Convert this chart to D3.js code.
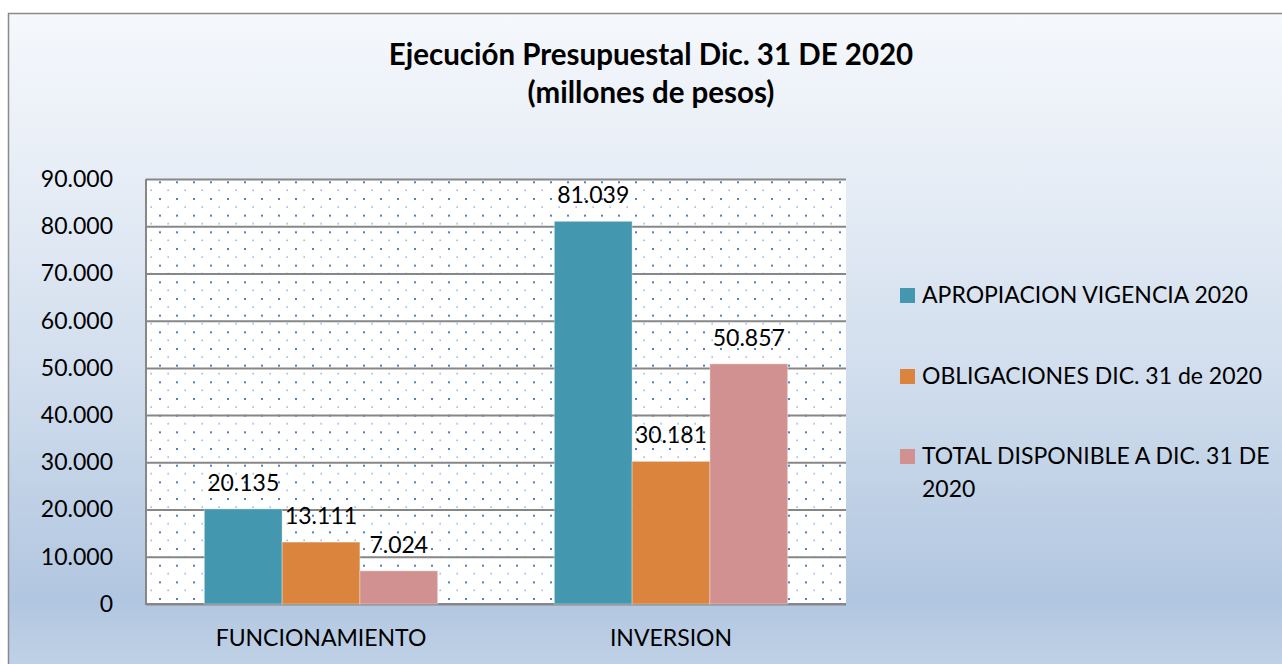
<!DOCTYPE html>
<html>
<head>
<meta charset="utf-8">
<script src="https://cdn.jsdelivr.net/npm/d3@7"></script>
<style>
  body { margin: 0; background: #fff; }
  svg { display: block; font-family: Lato, "Open Sans", sans-serif; }
</style>
</head>
<body>
<script>
// Datos del gráfico
const categorias = ["FUNCIONAMIENTO", "INVERSION"];
const series = ["APROPIACION VIGENCIA 2020", "OBLIGACIONES DIC. 31 de 2020", "TOTAL DISPONIBLE A DIC. 31 DE 2020"];
const apropiacion = [20135, 81039];
const obligaciones = [13111, 30181];
const disponible = [7024, 50857];
const ticksY = [0, 10000, 20000, 30000, 40000, 50000, 60000, 70000, 80000, 90000];

const WIDTH = 1282;
const HEIGHT = 664;
const PLOT = { left: 146, right: 846, top: 179, bottom: 604 };
const COLORES = ["#4398b0", "#da843e", "#d29191"];

const locale = d3.formatLocale({ decimal: ",", thousands: ".", grouping: [3], currency: ["$", ""] });
const fmt = locale.format(",d");

const svg = d3.select("body").append("svg")
  .attr("width", WIDTH)
  .attr("height", HEIGHT);

const defs = svg.append("defs");

// Fondo degradado del gráfico
const grad = defs.append("linearGradient")
  .attr("id", "fondo")
  .attr("x1", 0).attr("y1", 0).attr("x2", 0).attr("y2", 1);
[[0, "#f5f8fc"], [0.2, "#e9eff7"], [0.5, "#d3dfee"], [0.85, "#b1c6e0"], [1, "#c8d8ea"]]
  .forEach(([o, c]) => grad.append("stop").attr("offset", o).attr("stop-color", c));

// Patrón de puntos del área de trazado
const pat = defs.append("pattern")
  .attr("id", "puntos")
  .attr("patternUnits", "userSpaceOnUse")
  .attr("x", 159).attr("y", 181.3)
  .attr("width", 17).attr("height", 16.67);
pat.append("rect").attr("width", 17).attr("height", 16.67).attr("fill", "#fff");
pat.append("rect").attr("x", 0).attr("y", 0).attr("width", 2).attr("height", 2).attr("fill", "#4f7fc6");
pat.append("rect").attr("x", 8.5).attr("y", 8.4).attr("width", 1.3).attr("height", 1.3).attr("fill", "#6b93cf");

svg.append("rect")
  .attr("x", 8.5).attr("y", 13.5)
  .attr("width", 1300).attr("height", 690)
  .attr("fill", "url(#fondo)")
  .attr("stroke", "#8a8a8a")
  .attr("stroke-width", 1.5);

// Título
const titulo = svg.append("text")
  .attr("x", 651)
  .attr("text-anchor", "middle")
  .attr("font-weight", "bold")
  .attr("font-size", 29.5)
  .attr("fill", "#000");
titulo.append("tspan").attr("x", 651).attr("y", 65).text("Ejecución Presupuestal Dic. 31 DE 2020");
titulo.append("tspan").attr("x", 651).attr("y", 103).text("(millones de pesos)");

// Escalas
const escalaY = d3.scaleLinear().domain([0, 90000]).range([PLOT.bottom, PLOT.top]);
const escalaX = d3.scaleBand().domain(categorias).range([PLOT.left, PLOT.right]).padding(0);
const escalaSerie = d3.scaleBand().domain(series).range([0, escalaX.bandwidth()])
  .paddingInner(0).paddingOuter(0.75);

// Área de trazado
svg.append("rect")
  .attr("x", PLOT.left).attr("y", PLOT.top)
  .attr("width", PLOT.right - PLOT.left).attr("height", PLOT.bottom - PLOT.top)
  .attr("fill", "url(#puntos)");

// Eje Y con líneas de cuadrícula
const ejeY = svg.append("g")
  .attr("transform", `translate(${PLOT.left},0)`)
  .call(d3.axisLeft(escalaY).tickValues(ticksY).tickFormat(fmt).tickSize(0).tickPadding(33));
ejeY.select(".domain").remove();
ejeY.selectAll("line")
  .attr("x2", PLOT.right - PLOT.left)
  .attr("stroke", "#878787")
  .attr("stroke-width", 2);
ejeY.selectAll("text")
  .attr("font-size", 23)
  .attr("font-family", "Lato, sans-serif")
  .attr("fill", "#000");

// Borde izquierdo e inferior
svg.append("path")
  .attr("d", `M${PLOT.left},${PLOT.top}V${PLOT.bottom}H${PLOT.right}`)
  .attr("fill", "none")
  .attr("stroke", "#878787")
  .attr("stroke-width", 2);

// Barras
const datos = categorias.flatMap((c, i) => [
  { cat: c, serie: series[0], valor: apropiacion[i], color: COLORES[0] },
  { cat: c, serie: series[1], valor: obligaciones[i], color: COLORES[1] },
  { cat: c, serie: series[2], valor: disponible[i], color: COLORES[2] },
]);

svg.append("g").selectAll("rect")
  .data(datos)
  .join("rect")
  .attr("x", (d) => escalaX(d.cat) + escalaSerie(d.serie))
  .attr("y", (d) => escalaY(d.valor))
  .attr("width", escalaSerie.bandwidth())
  .attr("height", (d) => escalaY(0) - escalaY(d.valor))
  .attr("fill", (d) => d.color)
  .attr("stroke", "rgba(255,255,255,0.35)")
  .attr("stroke-width", 1);

// Etiquetas de datos
svg.append("g").selectAll("text")
  .data(datos)
  .join("text")
  .attr("x", (d) => escalaX(d.cat) + escalaSerie(d.serie) + escalaSerie.bandwidth() / 2)
  .attr("y", (d) => escalaY(d.valor) - 18)
  .attr("text-anchor", "middle")
  .attr("font-size", 23)
  .attr("fill", "#000")
  .text((d) => fmt(d.valor));

// Eje X
const ejeX = svg.append("g")
  .attr("transform", `translate(0,${PLOT.bottom})`)
  .call(d3.axisBottom(escalaX).tickSize(0).tickPadding(26));
ejeX.select(".domain").remove();
ejeX.selectAll("text")
  .attr("font-size", 23)
  .attr("font-family", "Lato, sans-serif")
  .attr("fill", "#000");

// Leyenda
const leyenda = svg.append("g");
const filasY = [303, 384, 464];
series.forEach((s, i) => {
  leyenda.append("rect")
    .attr("x", 900).attr("y", filasY[i] - 15)
    .attr("width", 15).attr("height", 15)
    .attr("fill", COLORES[i]);
  const t = leyenda.append("text")
    .attr("x", 922).attr("y", filasY[i])
    .attr("font-size", 23)
    .attr("fill", "#000");
  if (i === 2) {
    t.append("tspan").attr("x", 922).attr("y", filasY[i]).text("TOTAL DISPONIBLE A DIC. 31 DE");
    t.append("tspan").attr("x", 922).attr("y", filasY[i] + 33).text("2020");
  } else {
    t.text(s);
  }
});
</script>
</body>
</html>
